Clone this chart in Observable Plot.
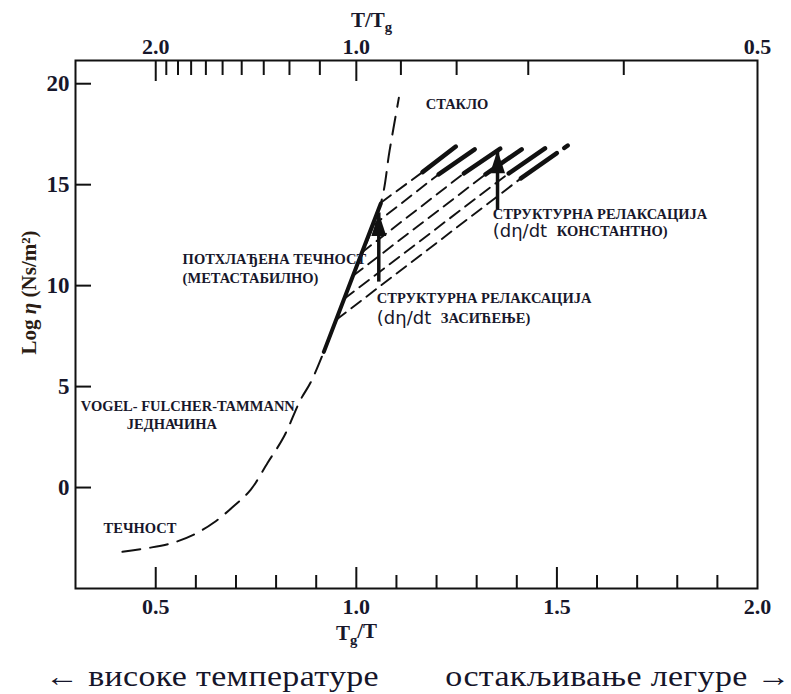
<!DOCTYPE html>
<html>
<head>
<meta charset="utf-8">
<script src="https://cdn.jsdelivr.net/npm/d3@7"></script>
<script src="https://cdn.jsdelivr.net/npm/@observablehq/plot@0.6"></script>
<style>
  body { margin: 0; background: #fff; }
  #chart { width: 791px; }
  .cap { position: relative; width: 791px; height: 42px; font-family: "Liberation Serif", serif; font-size: 29px; letter-spacing: 0.3px; color: #15152a; line-height: 1; }
  .cap span { position: absolute; top: 10px; white-space: nowrap; transform: translateX(-50%) scaleX(1.17); }
</style>
</head>
<body>
<div id="chart"></div>
<div class="cap"><span style="left:212px">← високе температуре</span><span style="left:618px">остакљивање легуре →</span></div>
<script>
// ---------- data ----------
// Vogel-Fulcher-Tammann equilibrium liquid curve (dashed), Tg/T vs log viscosity
const vftX = [0.417, 0.479, 0.537, 0.595, 0.645, 0.694, 0.737, 0.779, 0.819, 0.861, 0.886, 0.919, 0.990, 1.061, 1.083, 1.106];
const vftY = [-3.18, -3.00, -2.77, -2.33, -1.73, -0.93, -0.10, 1.23, 2.50, 4.35, 5.20, 6.72, 10.40, 14.07, 16.70, 19.30];
// measured supercooled liquid (solid)
const liquidX = [0.919, 0.990, 1.061];
const liquidY = [6.72, 10.40, 14.07];
// structural relaxation family: start on liquid line, thick part begins at mid, ends top-right
const relaxStartX = [1.062, 1.039, 1.013, 0.992, 0.970, 0.950];
const relaxStartY = [14.12, 12.94, 11.63, 10.49, 9.35, 8.31];
const relaxMidX = [1.165, 1.205, 1.268, 1.322, 1.380, 1.410];
const relaxMidY = [15.62, 15.51, 15.56, 15.51, 15.56, 15.31];
const relaxEndX = [1.248, 1.305, 1.367, 1.422, 1.477, 1.527];
const relaxEndY = [16.89, 16.89, 16.89, 16.89, 16.89, 16.94];
// arrows
const arrowX = [1.056, 1.352];
const arrowFromY = [10.67, 14.22];
const arrowToY = [13.60, 16.70];
// ticks
const bottomMajor = [0.5, 1.0, 1.5];
const bottomMinor = [0.6, 0.7, 0.8, 0.9, 1.1, 1.2, 1.3, 1.4, 1.6, 1.7, 1.8, 1.9];
const bottomLabels = [0.5, 1.0, 1.5, 2.0];
const topMajor = [2.0, 1.0];
const topMinor = [1.9, 1.8, 1.7, 1.6, 1.5, 1.4, 1.3, 1.2, 1.1, 0.9, 0.8, 0.7, 0.6];
const topLabels = [2.0, 1.0, 0.5];
const yTicks = [0, 5, 10, 15, 20];
// annotations
const noteText = ["СТАКЛО", "СТРУКТУРНА РЕЛАКСАЦИЈА", "ПОТХЛАЂЕНА ТЕЧНОСТ", "(МЕТАСТАБИЛНО)", "СТРУКТУРНА РЕЛАКСАЦИЈА", "VOGEL- FULCHER-TAMMANN", "ЈЕДНАЧИНА", "ТЕЧНОСТ"];
const noteX = [1.173, 1.340, 0.567, 0.567, 1.051, 0.313, 0.428, 0.370];
const noteY = [18.96, 13.53, 11.31, 10.37, 9.38, 4.00, 3.11, -2.03];
const rateX = [1.340, 1.051];
const rateY = [12.69, 8.40];
const rateMath = ["(dη/dt", "(dη/dt"];
const rateWord = ["КОНСТАНТНО)", "ЗАСИЋЕЊЕ)"];

// ---------- tables ----------
const ink = "#111";
const txt = "#17172b";
const serif = "Liberation Serif, serif";
const vft = vftX.map((x, i) => ({x, y: vftY[i]}));
const liquid = liquidX.map((x, i) => ({x, y: liquidY[i]}));
const thin = relaxStartX.flatMap((x, i) => [{id: i, x, y: relaxStartY[i]}, {id: i, x: relaxMidX[i], y: relaxMidY[i]}]);
const thick = relaxMidX.flatMap((x, i) => [{id: i, x, y: relaxMidY[i]}, {id: i, x: relaxEndX[i], y: relaxEndY[i]}]);
const arrows = arrowX.map((x, i) => ({x, y1: arrowFromY[i], y2: arrowToY[i]}));
const notes = noteText.map((t, i) => ({t, x: noteX[i], y: noteY[i]}));
const rates = rateX.map((x, i) => ({x, y: rateY[i], m: rateMath[i], w: rateWord[i]}));

const arrowHead = {
  draw(ctx, size) {
    const s = Math.sqrt(size / Math.PI);
    ctx.moveTo(0, 0);
    ctx.lineTo(0.75 * s, 2.3 * s);
    ctx.lineTo(-0.75 * s, 2.3 * s);
    ctx.closePath();
  }
};
const f1 = d3.format(".1f");

const chart = Plot.plot({
  width: 791,
  height: 652,
  marginLeft: 75,
  marginRight: 34,
  marginTop: 60,
  marginBottom: 64,
  style: {fontFamily: serif, background: "#fff", color: ink},
  x: {domain: [0.3, 2.0]},
  y: {domain: [-5, 21.15]},
  marks: [
    // bottom axis (ticks inward)
    Plot.axisX({anchor: "bottom", ticks: bottomMajor, tickSize: -21, strokeWidth: 2, tickFormat: () => "", label: null}),
    Plot.axisX({anchor: "bottom", ticks: bottomMinor, tickSize: -13, strokeWidth: 2, tickFormat: () => "", label: null}),
    Plot.axisX({anchor: "bottom", ticks: bottomLabels, tickSize: 0, tickPadding: 10, tickFormat: f1, fontSize: 22, fontWeight: "bold", fill: txt, label: null}),
    // top axis: T/Tg = 1/(Tg/T)
    Plot.axisX({anchor: "top", ticks: topMajor.map(v => 1 / v), tickSize: -20, strokeWidth: 2, tickFormat: () => "", label: null}),
    Plot.axisX({anchor: "top", ticks: topMinor.map(v => 1 / v), tickSize: -14, strokeWidth: 2, tickFormat: () => "", label: null}),
    Plot.axisX({anchor: "top", ticks: topLabels.map(v => 1 / v), tickSize: 0, tickPadding: 7, tickFormat: d => f1(1 / d), fontSize: 22, fontWeight: "bold", fill: txt, label: null}),
    // left axis
    Plot.axisY({anchor: "left", ticks: yTicks, tickSize: -16, strokeWidth: 2, tickFormat: () => "", label: null}),
    Plot.axisY({anchor: "left", ticks: yTicks, tickSize: 0, tickPadding: 6, tickFormat: d => String(d), fontSize: 23, fontWeight: "bold", fill: txt, label: null}),
    Plot.frame({stroke: ink, strokeWidth: 2}),
    // axis titles
    Plot.text(["T/Tg"], {frameAnchor: "top", lineAnchor: "middle", textAnchor: "middle", dy: -40, dx: -45, fontSize: 21, fontWeight: "bold", fill: txt}),
    Plot.text(["Tg/T"], {frameAnchor: "bottom", lineAnchor: "middle", textAnchor: "middle", dy: 45, dx: -60, fontSize: 21, fontWeight: "bold", fill: txt}),
    Plot.text(["Log η (Ns/m²)"], {frameAnchor: "left", textAnchor: "middle", lineAnchor: "middle", rotate: -90, dx: -46, dy: -32, fontSize: 21, fontWeight: "bold", fill: "#2b1d14"}),
    // curves
    Plot.line(vft, {x: "x", y: "y", curve: "catmull-rom", stroke: ink, strokeWidth: 2, strokeDasharray: "18,10"}),
    Plot.line(thin, {x: "x", y: "y", z: "id", stroke: ink, strokeWidth: 1.9, strokeDasharray: "12,7"}),
    Plot.line(thick, {x: "x", y: "y", z: "id", stroke: ink, strokeWidth: 4.5, strokeDasharray: "44,9"}),
    Plot.line(liquid, {x: "x", y: "y", stroke: ink, strokeWidth: 4, strokeLinecap: "round"}),
    // arrows
    Plot.ruleX(arrows, {x: "x", y1: "y1", y2: "y2", stroke: ink, strokeWidth: 3.5, insetTop: 10}),
    Plot.dot(arrows, {x: "x", y: "y2", symbol: arrowHead, r: 10, fill: ink, stroke: "none"}),
    // annotations
    Plot.text(notes, {x: "x", y: "y", text: "t", textAnchor: "start", fontSize: 14.5, fontWeight: "bold", fill: txt}),
    Plot.text(rates, {x: "x", y: "y", text: "m", textAnchor: "start", fontSize: 18, fontFamily: "DejaVu Sans, sans-serif", fill: txt}),
    Plot.text(rates, {x: "x", y: "y", text: "w", textAnchor: "start", dx: 64, fontSize: 14.5, fontWeight: "bold", fill: txt})
  ]
});

// rich text for subscripts / italics
d3.select(chart).selectAll("text").each(function () {
  const s = this.textContent;
  const el = d3.select(this);
  if (s === "T/Tg") {
    el.text("T/T");
    el.append("tspan").attr("font-size", "70%").attr("dy", "0.3em").text("g");
  } else if (s === "Tg/T") {
    el.text("T");
    el.append("tspan").attr("font-size", "70%").attr("dy", "0.3em").text("g");
    el.append("tspan").attr("dy", "-0.3em").text("/T");
  } else if (s === "Log η (Ns/m²)") {
    el.text("Log ");
    el.append("tspan").attr("font-style", "italic").text("η");
    el.append("tspan").text(" (Ns/m²)");
  }
});

document.getElementById("chart").appendChild(chart);
</script>
</body>
</html>
